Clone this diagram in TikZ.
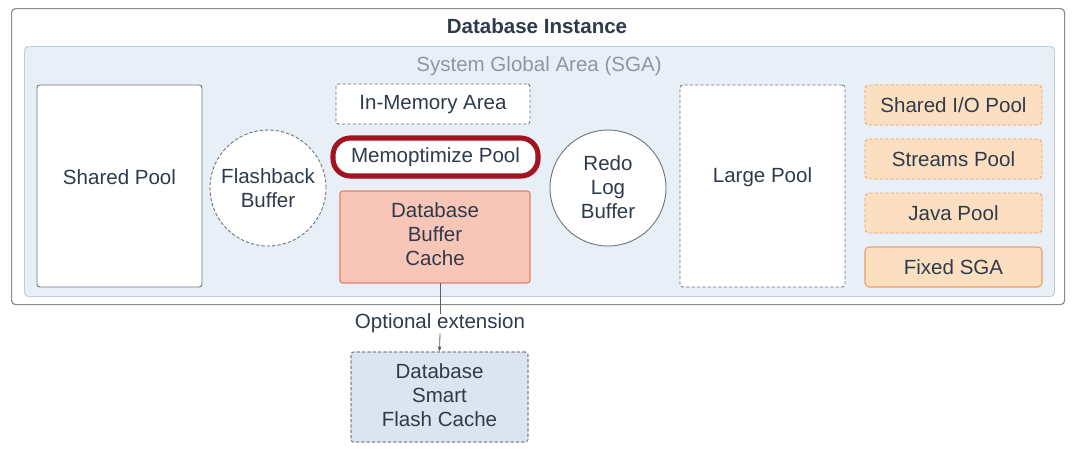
\documentclass[tikz,border=0pt]{standalone}
\usepackage{fontspec}
\setmainfont{Liberation Sans}
\usetikzlibrary{shadows,arrows.meta}
\definecolor{txt}{HTML}{2F3B4A}
\definecolor{sgafill}{HTML}{E9EFF7}
\definecolor{sgaborder}{HTML}{C3CDD8}
\definecolor{outerborder}{HTML}{8C8C8C}
\definecolor{boxborder}{HTML}{6E7680}
\definecolor{sgatxt}{HTML}{8D97A2}
\definecolor{memred}{HTML}{A3121F}
\definecolor{dbcfill}{HTML}{F8C6B6}
\definecolor{dbcborder}{HTML}{E0806C}
\definecolor{peach}{HTML}{FCDFC0}
\definecolor{peachborder}{HTML}{E9A06A}
\definecolor{flashfill}{HTML}{DCE5EF}
\definecolor{flashborder}{HTML}{7D8793}
\tikzset{
  x=0.75pt, y=-0.75pt,
  every node/.style={font=\fontsize{15.4}{18}\selectfont, text=txt, align=center, inner sep=0pt},
  whitebox/.style={draw=boxborder, fill=white, line width=0.7pt, rounded corners=2pt},
  dashbox/.style={draw=boxborder, fill=white, line width=0.7pt, dash pattern=on 2.5pt off 1.5pt, rounded corners=2pt},
  poolbox/.style={draw=peachborder, fill=peach, line width=0.7pt, dash pattern=on 2.5pt off 1.5pt, rounded corners=3pt},
}
\begin{document}
\begin{tikzpicture}
\useasboundingbox (0,0) rectangle (1080,451);
\fill[white] (0,0) rectangle (1080,451);
% outer instance
\node[draw=outerborder, line width=0.9pt, rounded corners=3pt, fill=white, minimum width=1053*0.75pt, minimum height=296*0.75pt, anchor=north west] (inst) at (11,8) {};
\node[font=\fontsize{15.4}{18}\selectfont\bfseries] (title) at (537,26) {Database Instance};
% SGA
\node[draw=sgaborder, line width=0.7pt, rounded corners=3pt, fill=sgafill, minimum width=1030*0.75pt, minimum height=250*0.75pt, anchor=north west] (sga) at (24,46) {};
\node[text=sgatxt] (sgal) at (539,66) {System Global Area (SGA)};
% Shared pool
\node[whitebox, minimum width=165*0.75pt, minimum height=202*0.75pt] (shared) at (119.5,186) {};
\node (sharedl) at (119.5,177) {Shared Pool};
% Flashback buffer
\node[circle, draw=boxborder, fill=white, line width=0.7pt, dash pattern=on 2.5pt off 1.5pt, minimum size=116*0.75pt] (flash) at (268,188) {Flashback\\Buffer};
% In-memory
\node[dashbox, minimum width=194*0.75pt, minimum height=40*0.75pt] (inmem) at (433,104) {};
\node (inmeml) at (433,105) {In-Memory Area};
% Memoptimize
\node[draw=memred, fill=white, line width=3.8pt, rounded corners=13pt, minimum width=205*0.75pt, minimum height=38*0.75pt, drop shadow={opacity=0.3, shadow xshift=2pt, shadow yshift=-2pt}] (memopt) at (435.5,157) {Memoptimize Pool};
% DB buffer cache
\node[draw=dbcborder, fill=dbcfill, line width=0.8pt, rounded corners=2pt, minimum width=190*0.75pt, minimum height=92*0.75pt] (dbc) at (435,237) {};
\node (dbcl) at (435,234) {Database\\Buffer\\Cache};
% Redo log buffer
\node[circle, draw=boxborder, fill=white, line width=0.7pt, minimum size=116*0.75pt] (redo) at (608,188) {};
\node (redol) at (608,187) {Redo\\Log\\Buffer};
% Large pool
\node[dashbox, minimum width=165*0.75pt, minimum height=202*0.75pt] (large) at (762.5,186) {};
\node (largel) at (762.5,177) {Large Pool};
% right pools
\node[poolbox, minimum width=177*0.75pt, minimum height=40*0.75pt] (sio) at (953.5,105) {Shared I/O Pool};
\node[poolbox, minimum width=177*0.75pt, minimum height=40*0.75pt] (streams) at (953.5,159) {Streams Pool};
\node[poolbox, minimum width=177*0.75pt, minimum height=40*0.75pt] (java) at (953.5,213) {Java Pool};
\node[draw=peachborder, fill=peach, line width=0.8pt, rounded corners=3pt, minimum width=177*0.75pt, minimum height=40*0.75pt] (fixed) at (953.5,267) {Fixed SGA};
% Optional extension
\node (opt) at (440,323.5) {Optional extension};
\node[draw=flashborder, fill=flashfill, line width=0.8pt, dash pattern=on 2.5pt off 1.5pt, rounded corners=2pt, minimum width=177*0.75pt, minimum height=90*0.75pt] (dsfc) at (439.5,397) {};
\node (dsfcl) at (439.5,395) {Database\\Smart\\Flash Cache};
\draw[draw=txt!80, line width=0.6pt] (440,283) -- (opt.north);
\draw[draw=txt!80, line width=0.6pt, -{Stealth[length=4pt,width=3pt]}] (opt.south) -- (dsfc.north);
\end{tikzpicture}
\end{document}
